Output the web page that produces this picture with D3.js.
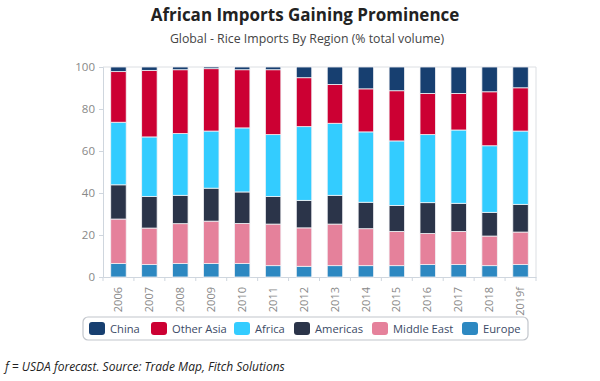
<!DOCTYPE html>
<html>
<head>
<meta charset="utf-8">
<script src="https://cdn.jsdelivr.net/npm/d3@7"></script>
<style>
  body { margin: 0; background: #fff; }
  text { font-family: "Open Sans", "Noto Sans", sans-serif; }
</style>
</head>
<body>
<svg id="chart" width="600" height="381"></svg>
<script>
const years = ["2006", "2007", "2008", "2009", "2010", "2011", "2012", "2013", "2014", "2015", "2016", "2017", "2018", "2019f"];
const regions = ["China", "Other Asia", "Africa", "Americas", "Middle East", "Europe"];
const colors = ["#173f70", "#cc0033", "#33ccff", "#2b3449", "#e5819b", "#2d88c1"];

// share of total volume, %
const europe = [6.4, 5.9, 6.4, 6.4, 6.4, 5.4, 5.1, 5.4, 5.4, 5.4, 5.9, 5.9, 5.4, 5.9];
const middleEast = [21.2, 17.4, 19.0, 20.2, 19.1, 19.8, 18.3, 19.8, 17.6, 16.3, 14.8, 15.8, 14.1, 15.5];
const americas = [16.3, 15.0, 13.5, 15.7, 15.0, 13.1, 13.1, 13.7, 12.6, 12.4, 14.7, 13.4, 11.3, 13.2];
const africa = [29.8, 28.4, 29.4, 27.2, 30.5, 29.5, 35.1, 34.3, 33.5, 30.7, 32.4, 34.9, 31.7, 34.9];
const otherAsia = [24.1, 31.7, 30.4, 29.7, 27.7, 30.9, 23.3, 18.5, 20.5, 23.9, 19.6, 17.4, 25.7, 20.6];
const china = [2.2, 1.6, 1.3, 0.8, 1.3, 1.3, 5.1, 8.3, 10.4, 11.3, 12.6, 12.6, 11.8, 9.9];

const yTicks = [0, 20, 40, 60, 80, 100];

const series = { "China": china, "Other Asia": otherAsia, "Africa": africa, "Americas": americas, "Middle East": middleEast, "Europe": europe };

const rows = years.map((y, i) => {
  const r = { year: y };
  regions.forEach(k => r[k] = series[k][i]);
  return r;
});

const svg = d3.select("#chart");
const margin = { left: 103, right: 64, top: 67, bottom: 104 };
const W = 600, H = 381;

const x = d3.scaleBand().domain(years).range([margin.left, W - margin.right]).paddingInner(0.5).paddingOuter(0.25);
const y = d3.scaleLinear().domain([0, 100]).range([H - margin.bottom, margin.top]);
const color = d3.scaleOrdinal().domain(regions).range(colors);

// stack from bottom: Europe first
const stacked = d3.stack().keys(regions.slice().reverse())(rows);

// title
svg.append("text")
  .attr("x", 305).attr("y", 21)
  .attr("text-anchor", "middle")
  .attr("font-size", 17).attr("font-weight", "bold")
  .attr("fill", "#222")
  .text("African Imports Gaining Prominence");

svg.append("text")
  .attr("x", 307).attr("y", 43)
  .attr("text-anchor", "middle")
  .attr("font-size", 12.3)
  .attr("fill", "#444")
  .text("Global - Rice Imports By Region (% total volume)");

// plot frame (top and right)
svg.append("path")
  .attr("d", `M${margin.left},${y(100)}H${W - margin.right}V${y(0)}`)
  .attr("fill", "none")
  .attr("stroke", "#dcdfe3");

// y axis
const yAxis = svg.append("g")
  .attr("transform", `translate(${margin.left},0)`)
  .call(d3.axisLeft(y).tickValues(yTicks).tickSize(4).tickPadding(4));
yAxis.select(".domain").attr("stroke", "#cfd6de");
yAxis.selectAll(".tick line").attr("stroke", "#cfd6de");
yAxis.selectAll(".tick text").attr("fill", "#888").attr("font-size", 11.5);

// x axis
const xAxis = svg.append("g")
  .attr("transform", `translate(0,${y(0)})`)
  .call(d3.axisBottom(x).tickSize(0).tickPadding(0));
xAxis.select(".domain").attr("stroke", "#cfd6de");
xAxis.selectAll(".tick text")
  .attr("fill", "#888").attr("font-size", 11)
  .attr("transform", "rotate(-90)")
  .attr("text-anchor", "end")
  .attr("dy", "0.33em")
  .attr("y", 0).attr("x", -10);

// boundary ticks between categories
const step = x.step();
svg.append("g").selectAll("line")
  .data(d3.range(years.length + 1))
  .join("line")
  .attr("x1", i => x(years[0]) + x.bandwidth() / 2 - step / 2 + i * step)
  .attr("x2", i => x(years[0]) + x.bandwidth() / 2 - step / 2 + i * step)
  .attr("y1", y(0)).attr("y2", y(0) + 4)
  .attr("stroke", "#cfd6de");

// bars
svg.append("g").selectAll("g")
  .data(stacked)
  .join("g")
  .attr("fill", d => color(d.key))
  .selectAll("rect")
  .data(d => d)
  .join("rect")
  .attr("x", d => x(d.data.year))
  .attr("width", x.bandwidth())
  .attr("y", d => y(d[1]))
  .attr("height", d => y(d[0]) - y(d[1]))
  .attr("stroke", "#f2f2f5")
  .attr("stroke-width", 0.8);

// legend
const lg = svg.append("g");
lg.append("rect")
  .attr("x", 83).attr("y", 317).attr("width", 445).attr("height", 23)
  .attr("rx", 5)
  .attr("fill", "#fff").attr("stroke", "#c2c6cc").attr("stroke-width", 1.2);
const legendX = [89, 151, 234, 294, 372, 462];
regions.forEach((k, i) => {
  const g = lg.append("g").attr("transform", `translate(${legendX[i]},322)`);
  g.append("rect").attr("width", 16).attr("height", 13).attr("rx", 3).attr("fill", color(k));
  g.append("text").attr("x", 21).attr("y", 11)
    .attr("font-size", 11.2)
    .attr("fill", "#3b4a66").text(k);
});

// footnote
svg.append("text")
  .attr("x", 5).attr("y", 371)
  .attr("font-size", 12).attr("font-style", "italic")
  .attr("fill", "#222")
  .text("f = USDA forecast. Source: Trade Map, Fitch Solutions");
</script>
</body>
</html>
